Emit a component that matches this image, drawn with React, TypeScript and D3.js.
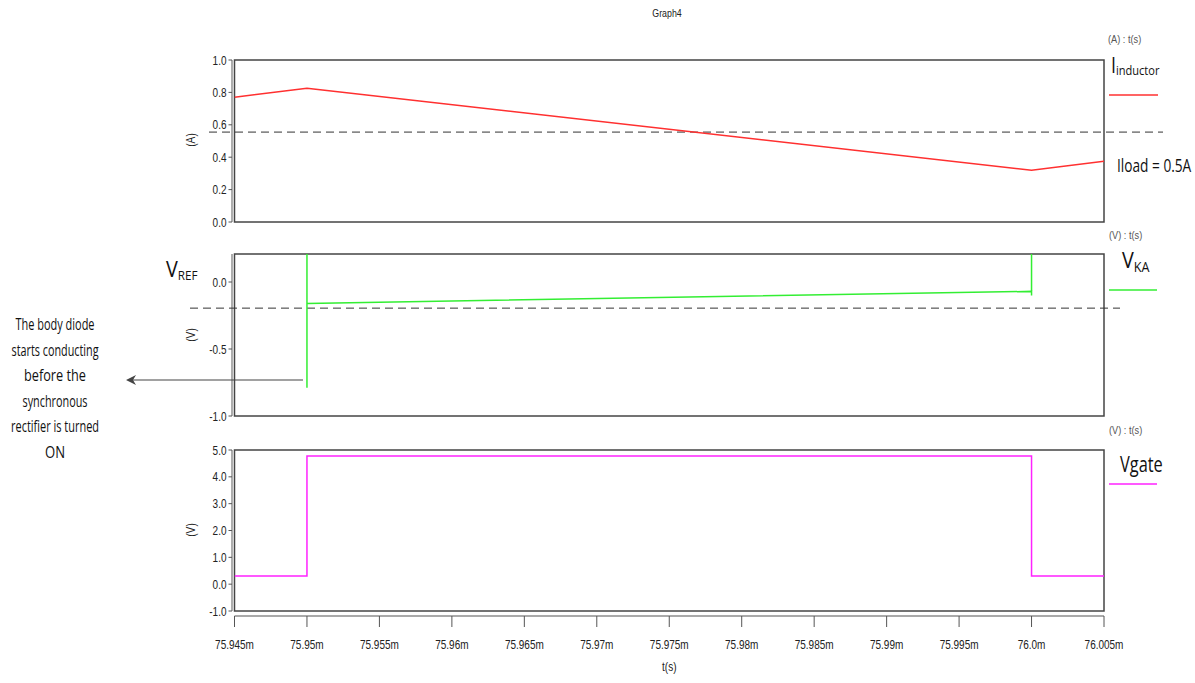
import React from "react";
import * as d3 from "d3";

// ---- data (time in ms) ----
const xTickValues = [75.945, 75.95, 75.955, 75.96, 75.965, 75.97, 75.975, 75.98, 75.985, 75.99, 75.995, 76.0, 76.005];
const xTickLabels = ["75.945m", "75.95m", "75.955m", "75.96m", "75.965m", "75.97m", "75.975m", "75.98m", "75.985m", "75.99m", "75.995m", "76.0m", "76.005m"];

const tInductor = [75.945, 75.95, 76.0, 76.005];
const iInductor = [0.77, 0.825, 0.32, 0.375];
const iLoadRef = 0.555;

const tKA = [75.945, 75.95, 75.95, 75.95, 76.0, 76.0, 76.0, 76.005];
const vKA = [0.3, 0.3, -0.79, -0.16, -0.07, -0.1, 0.3, 0.3];
const vRefLevel = -0.195;

const tGate = [75.945, 75.95, 75.95, 76.0, 76.0, 76.005];
const vGate = [0.3, 0.3, 4.78, 4.78, 0.3, 0.3];

const p1Ticks = [0, 0.2, 0.4, 0.6, 0.8, 1.0];
const p1TickLabels = ["0.0", "0.2", "0.4", "0.6", "0.8", "1.0"];
const p2Ticks = [-1.0, -0.5, 0.0];
const p2TickLabels = ["-1.0", "-0.5", "0.0"];
const p3Ticks = [-1, 0, 1, 2, 3, 4, 5];
const p3TickLabels = ["-1.0", "0.0", "1.0", "2.0", "3.0", "4.0", "5.0"];

const noteLines = ["The body diode", "starts conducting", "before the", "synchronous", "rectifier is turned", "ON"];
const noteWidths = [79, 87, 62, 65, 88, 20];

const AX = "'Liberation Sans', Arial, sans-serif";
const CAL = "'Open Sans', 'Liberation Sans', sans-serif";
const SQ = 0.8; // horizontal squeeze for the narrow axis font

const X0 = 234.5, X1 = 1104;
const x = d3.scaleLinear().domain([75.945, 76.005]).range([X0, X1]);

type Panel = {
  id: string;
  y: d3.ScaleLinear<number, number>;
  top: number;
  bottom: number;
  ticks: number[];
  labels: string[];
  unit: string;
  unitY: number;
};

const y1 = d3.scaleLinear().domain([0, 1]).range([222, 60]);
const y2 = d3.scaleLinear().domain([-1, 0.2]).range([416, 255.2]);
const y3 = d3.scaleLinear().domain([-1, 5]).range([611, 450]);

const panels: Panel[] = [
  { id: "p1", y: y1, top: 60, bottom: 222, ticks: p1Ticks, labels: p1TickLabels, unit: "(A)", unitY: 140 },
  { id: "p2", y: y2, top: 254, bottom: 416, ticks: p2Ticks, labels: p2TickLabels, unit: "(V)", unitY: 335 },
  { id: "p3", y: y3, top: 450, bottom: 611, ticks: p3Ticks, labels: p3TickLabels, unit: "(V)", unitY: 530 },
];

function linePath(ts: number[], vs: number[], ys: d3.ScaleLinear<number, number>) {
  const pts: [number, number][] = ts.map((t, i) => [t, vs[i]]);
  return d3.line<[number, number]>().x((d) => x(d[0])).y((d) => ys(d[1]))(pts) || "";
}

function NText(props: { x: number; y: number; s?: number; size?: number; anchor?: string; fill?: string; family?: string; children: React.ReactNode }) {
  const { x: tx, y: ty, s = SQ, size = 12, anchor = "start", fill = "#222", family = AX } = props;
  return (
    <text transform={`translate(${tx},${ty}) scale(${s},1)`} fontFamily={family} fontSize={size} textAnchor={anchor as any} fill={fill}>
      {props.children}
    </text>
  );
}

export default function App() {
  return (
    <svg width={1195} height={683} style={{ position: "absolute", left: 0, top: 0, background: "#fff" }}>
      <defs>
        {panels.map((p) => (
          <clipPath id={"clip-" + p.id} key={p.id}>
            <rect x={X0} y={p.top} width={X1 - X0} height={p.bottom - p.top} />
          </clipPath>
        ))}
      </defs>

      <NText x={667} y={17} size={11} anchor="middle">Graph4</NText>

      {panels.map((p) => (
        <g key={p.id}>
          <line x1={232} x2={232} y1={p.top} y2={p.bottom} stroke="#777" strokeWidth={1.2} />
          {p.ticks.map((v, i) => (
            <g key={i}>
              <line x1={228.5} x2={232} y1={p.y(v)} y2={p.y(v)} stroke="#555" />
              <NText x={226.5} y={p.y(v) + 4.5} size={12.5} anchor="end">{p.labels[i]}</NText>
            </g>
          ))}
          <text transform={`translate(195,${p.unitY}) rotate(-90) scale(0.85,1)`} fontFamily={AX} fontSize={12} textAnchor="middle" fill="#222">{p.unit}</text>
          <rect x={X0} y={p.top} width={X1 - X0} height={p.bottom - p.top} fill="none" stroke="#444" strokeWidth={1.5} />
        </g>
      ))}

      {/* Panel 1 */}
      <line x1={209} x2={1163} y1={y1(iLoadRef)} y2={y1(iLoadRef)} stroke="#333" strokeWidth={1} strokeDasharray="8,5" />
      <path d={linePath(tInductor, iInductor, y1)} fill="none" stroke="#ff3030" strokeWidth={1.5} clipPath="url(#clip-p1)" />
      <NText x={1108} y={43} size={11.5} fill="#555">(A) : t(s)</NText>
      <text transform="translate(1111,73) scale(0.85,1)" fontFamily={CAL} fill="#111">
        <tspan fontSize={21}>I</tspan>
        <tspan fontSize={13} dy={2}>inductor</tspan>
      </text>
      <line x1={1109} x2={1158} y1={95} y2={95} stroke="#ff3030" strokeWidth={1.5} />
      <NText x={1117} y={172} size={19} s={0.72} family={CAL} fill="#111">Iload = 0.5A</NText>

      {/* Panel 2 */}
      <line x1={190} x2={1120} y1={y2(vRefLevel)} y2={y2(vRefLevel)} stroke="#333" strokeWidth={1} strokeDasharray="8,5" />
      <path d={linePath(tKA, vKA, y2)} fill="none" stroke="#33ee33" strokeWidth={1.5} clipPath="url(#clip-p2)" />
      <NText x={1109} y={239} size={11.5} fill="#555">(V) : t(s)</NText>
      <text transform="translate(1122,268) scale(0.9,1)" fontFamily={CAL} fill="#111">
        <tspan fontSize={22}>V</tspan>
        <tspan fontSize={14} dy={4}>KA</tspan>
      </text>
      <line x1={1109} x2={1157} y1={290} y2={290} stroke="#33ee33" strokeWidth={1.5} />
      <text transform="translate(166,277) scale(0.9,1)" fontFamily={CAL} fill="#111">
        <tspan fontSize={22}>V</tspan>
        <tspan fontSize={13} dy={3}>REF</tspan>
      </text>

      {/* Panel 3 */}
      <path d={linePath(tGate, vGate, y3)} fill="none" stroke="#ff22ff" strokeWidth={1.5} clipPath="url(#clip-p3)" />
      <NText x={1109} y={434} size={11.5} fill="#555">(V) : t(s)</NText>
      <NText x={1120} y={472} size={21} s={0.78} family={CAL} fill="#111">Vgate</NText>
      <line x1={1109} x2={1157} y1={484} y2={484} stroke="#ff22ff" strokeWidth={1.5} />

      {/* X axis */}
      <line x1={X0} x2={X1} y1={616} y2={616} stroke="#555" strokeWidth={1.2} />
      {xTickValues.map((v, i) => (
        <g key={i}>
          <line x1={x(v)} x2={x(v)} y1={616} y2={627} stroke="#555" />
          <NText x={x(v)} y={649} size={12.5} anchor="middle">{xTickLabels[i]}</NText>
        </g>
      ))}
      <NText x={x(75.975)} y={671} size={12.5} anchor="middle">t(s)</NText>

      {/* Annotation */}
      <line x1={303} x2={133} y1={380} y2={380} stroke="#444" strokeWidth={1.2} />
      <path d="M126,380 L136,375 L133,380 L136,385 Z" fill="#444" />
      {noteLines.map((s, i) => (
        <text key={i} x={55} y={330 + i * 25.5} fontFamily={CAL} fontSize={16} textAnchor="middle" fill="#111"
          textLength={noteWidths[i]} lengthAdjust="spacingAndGlyphs">{s}</text>
      ))}
    </svg>
  );
}
